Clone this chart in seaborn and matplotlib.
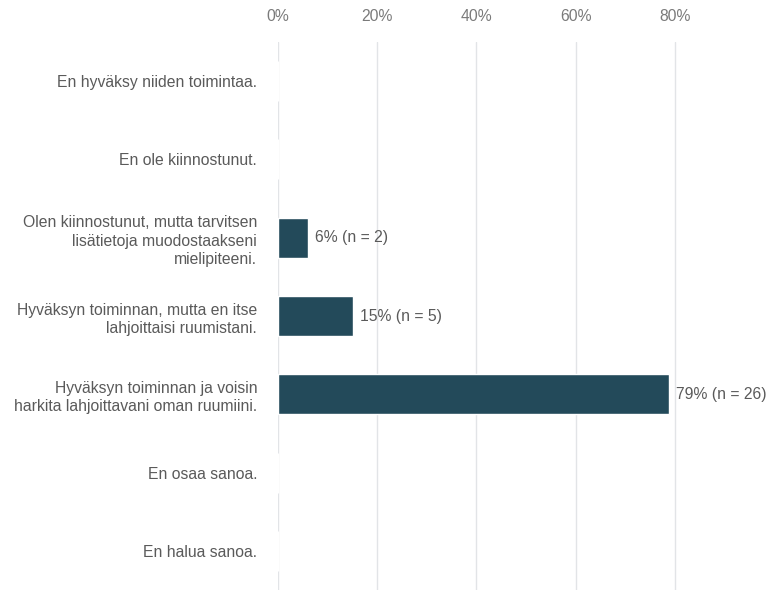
import pandas as pd
import matplotlib.pyplot as plt
import seaborn as sns

# Vastaukset
categories = [
    'En hyväksy niiden toimintaa.',
    'En ole kiinnostunut.',
    'Olen kiinnostunut, mutta tarvitsen\nlisätietoja muodostaakseni\nmielipiteeni.',
    'Hyväksyn toiminnan, mutta en itse\nlahjoittaisi ruumistani.',
    'Hyväksyn toiminnan ja voisin\nharkita lahjoittavani oman ruumiini.',
    'En osaa sanoa.',
    'En halua sanoa.',
]
percent = [0, 0, 6.1, 15.2, 78.8, 0, 0]
counts = [0, 0, 2, 5, 26, 0, 0]
xticks = [0, 20, 40, 60, 80]

df = pd.DataFrame({'Vastaus': categories, 'Osuus': percent, 'n': counts})

sns.set_style('white')
plt.rcParams['font.family'] = ['Liberation Sans', 'DejaVu Sans']

fig = plt.figure(figsize=(7.73, 5.90), dpi=100)
ax = fig.add_axes([0.3596, 0.0, 0.520, 0.9288])

sns.barplot(data=df, x='Osuus', y='Vastaus', orient='h', color='#234a5a',
            saturation=1, width=0.51, ax=ax, zorder=3)

ax.set_xlim(0, 81)
ax.set_xticks(xticks)
ax.set_xticklabels([f'{t}%' for t in xticks])
ax.xaxis.tick_top()
ax.tick_params(axis='x', length=0, pad=13, labelsize=11.3, labelcolor='#7a7a7a')
ax.tick_params(axis='y', length=0, pad=15, labelsize=11.3, labelcolor='#5a5a5a')
for lbl in ax.get_yticklabels():
    lbl.set_linespacing(1.3)

ax.grid(axis='x', color='#e2e4e7', linewidth=1, zorder=0)
ax.grid(axis='y', visible=False)
for s in ax.spines.values():
    s.set_visible(False)
ax.set_xlabel('')
ax.set_ylabel('')

# Arvot palkkien perään
for i, (p, n) in enumerate(zip(percent, counts)):
    if n > 0:
        ax.text(p + 1.4, i, f'{round(p)}% (n = {n})', va='center', ha='left',
                fontsize=11.3, color='#5a5a5a', clip_on=False)

fig.savefig('out.png', dpi=100)
